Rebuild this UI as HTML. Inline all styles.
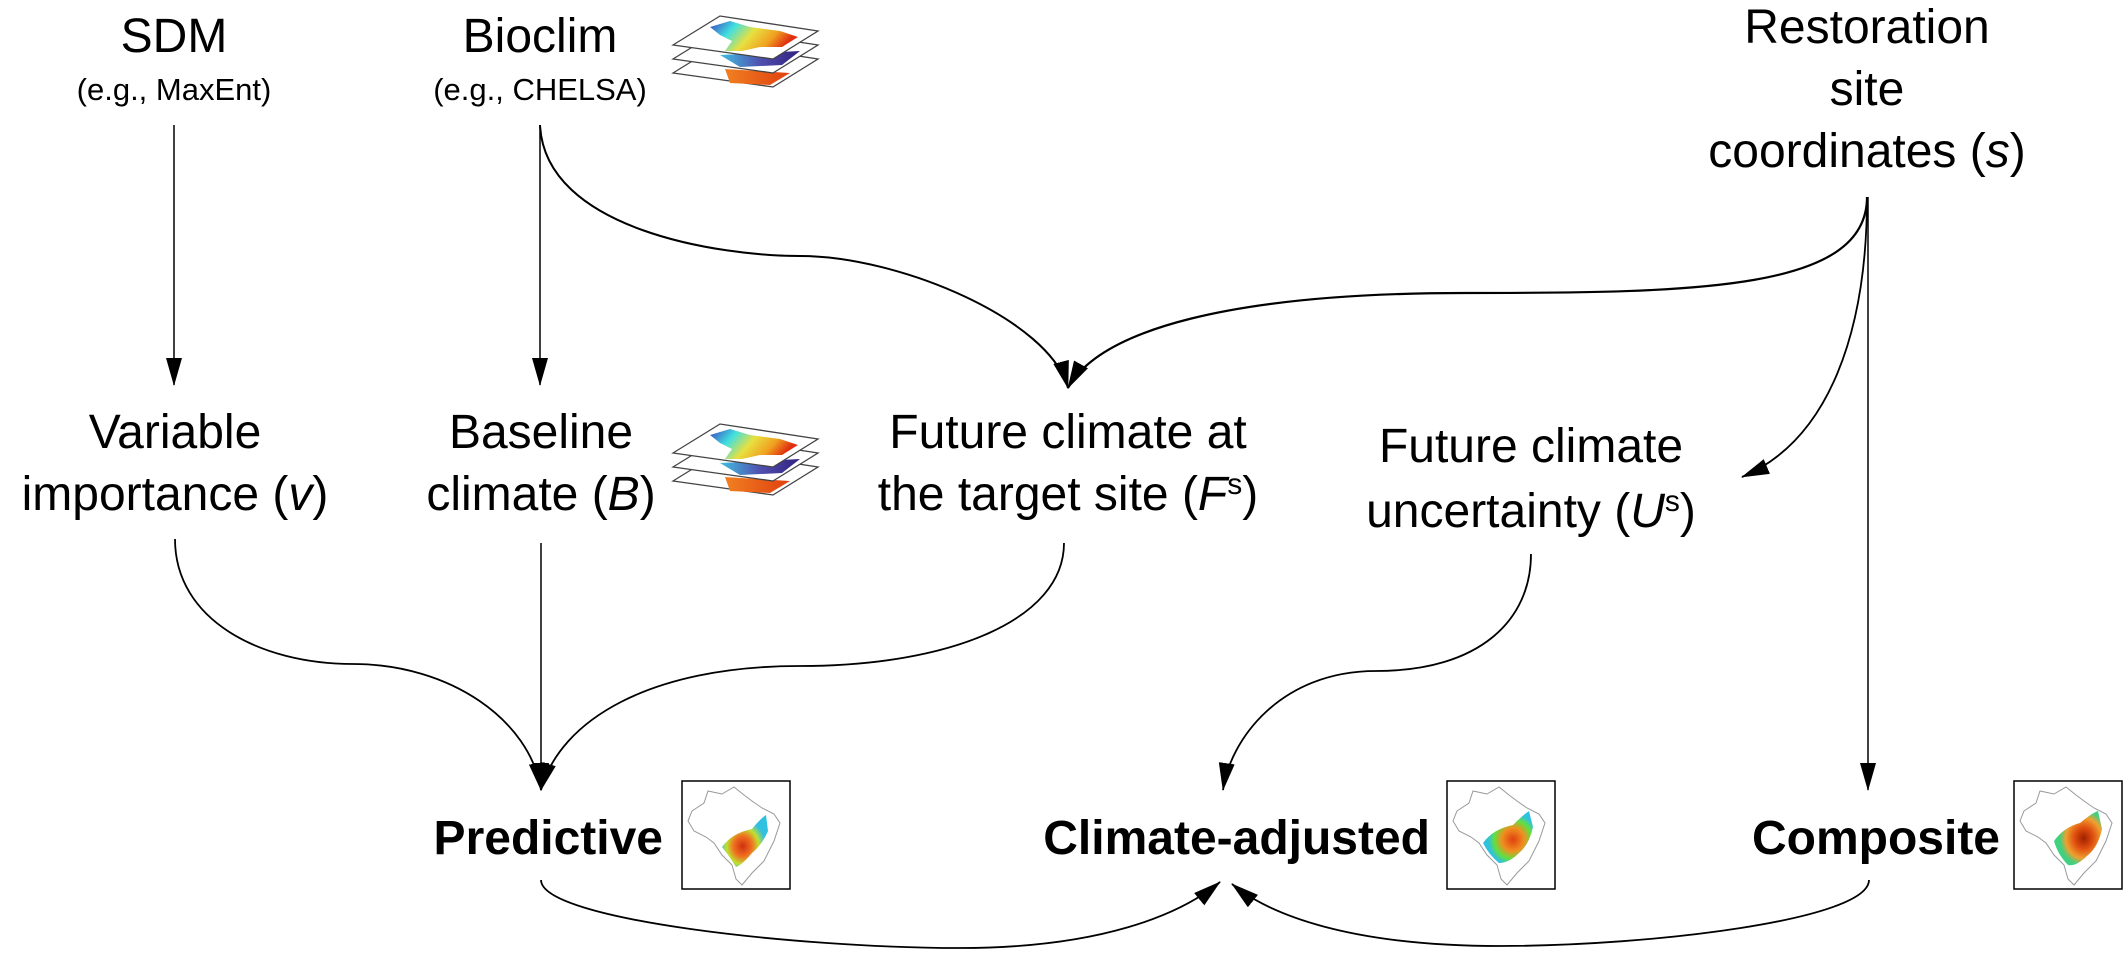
<!DOCTYPE html>
<html><head><meta charset="utf-8"><style>
html,body{margin:0;padding:0;background:#fff;}
svg{display:block;}
text{font-family:"Liberation Sans",Arial,sans-serif;fill:#000;}
</style></head><body>
<svg width="2128" height="954" viewBox="0 0 2128 954" xmlns="http://www.w3.org/2000/svg">
<defs>
<marker id="ah" viewBox="0 0 28 16" refX="27" refY="8" markerWidth="28" markerHeight="16" markerUnits="userSpaceOnUse" orient="auto">
<path d="M0,0 L28,8 L0,16 Z" fill="#000"/>
</marker>
<linearGradient id="g1" x1="0" y1="0" x2="1" y2="0.3">
<stop offset="0" stop-color="#4040c0"/><stop offset="0.3" stop-color="#40e0e0"/><stop offset="0.55" stop-color="#e8e040"/><stop offset="0.8" stop-color="#f0a020"/><stop offset="1" stop-color="#e03010"/>
</linearGradient>
<linearGradient id="g2" x1="0" y1="0" x2="1" y2="0">
<stop offset="0" stop-color="#40c0e0"/><stop offset="0.5" stop-color="#5050b0"/><stop offset="1" stop-color="#302080"/>
</linearGradient>
<linearGradient id="g3" x1="0" y1="0" x2="1" y2="0">
<stop offset="0" stop-color="#f08020"/><stop offset="1" stop-color="#e04010"/>
</linearGradient>
<radialGradient id="rm1" cx="0.45" cy="0.6" r="0.5">
<stop offset="0" stop-color="#d03010"/><stop offset="0.4" stop-color="#f07020"/><stop offset="0.7" stop-color="#c0e030"/><stop offset="1" stop-color="#30c0e0"/>
</radialGradient>
<radialGradient id="rm2" cx="0.6" cy="0.55" r="0.5">
<stop offset="0" stop-color="#e04010"/><stop offset="0.45" stop-color="#f09020"/><stop offset="0.75" stop-color="#60e040"/><stop offset="1" stop-color="#30c0e0"/>
</radialGradient>
<radialGradient id="rm3" cx="0.62" cy="0.5" r="0.5">
<stop offset="0" stop-color="#a02000"/><stop offset="0.4" stop-color="#e05010"/><stop offset="0.75" stop-color="#f0a030"/><stop offset="1" stop-color="#40d080"/>
</radialGradient>
<g id="layers">
<path d="M3,66 L50,37 L148,52 L103,80 Z" fill="#fff" stroke="#444" stroke-width="1.3"/>
<path d="M55,62 L120,66 L100,78 L60,76 Z" fill="url(#g3)"/>
<path d="M3,52 L50,23 L148,38 L103,66 Z" fill="#fff" stroke="#444" stroke-width="1.3"/>
<path d="M50,48 L130,44 L112,58 L70,60 Z" fill="url(#g2)"/>
<path d="M3,38 L50,9 L148,24 L103,52 Z" fill="#fff" stroke="#444" stroke-width="1.3"/>
<path d="M40,20 L60,14 L80,20 L110,24 L128,30 L112,40 L90,40 L72,44 L55,44 L62,34 L50,28 Z" fill="url(#g1)"/>
</g>
<g id="brazil">
<rect x="0" y="0" width="108" height="108" fill="#fff" stroke="#000" stroke-width="1.5"/>
<path d="M10,30 L22,22 L26,10 L40,13 L52,6 L62,14 L70,20 L80,27 L92,33 L98,42 L92,60 L82,80 L70,92 L60,104 L54,98 L50,84 L40,74 L32,62 L24,56 L12,50 L6,40 Z" fill="none" stroke="#999" stroke-width="1"/>
</g>
</defs>

<g fill="none" stroke="#000">
<line x1="174" y1="125" x2="174" y2="385" stroke-width="1.5" marker-end="url(#ah)"/>
<line x1="540" y1="125" x2="540" y2="385" stroke-width="1.5" marker-end="url(#ah)"/>
<path d="M540,125 C545,230 720,256 800,256 C900,256 1050,320 1068,388" stroke-width="2" marker-end="url(#ah)"/>
<path d="M1867,197 C1867,290 1700,293 1465,293 C1230,293 1100,330 1068,388" stroke-width="2.2" marker-end="url(#ah)"/>
<path d="M1867,197 C1867,330 1830,440 1742,477" stroke-width="1.8" marker-end="url(#ah)"/>
<line x1="1868" y1="197" x2="1868" y2="790" stroke-width="1.5" marker-end="url(#ah)"/>
<path d="M175,539 C175,620 260,664 353,664 C450,664 530,720 541,790" stroke-width="1.8" marker-end="url(#ah)"/>
<line x1="541" y1="543" x2="541" y2="790" stroke-width="1.5" marker-end="url(#ah)"/>
<path d="M1064,543 C1064,620 950,666 800,666 C650,666 560,720 541,790" stroke-width="1.8" marker-end="url(#ah)"/>
<path d="M1531,554 C1531,620 1480,671 1376,671 C1280,671 1230,740 1223,790" stroke-width="1.8" marker-end="url(#ah)"/>
<path d="M541,880 C541,920 800,948 960,948 C1100,948 1180,915 1220,882" stroke-width="1.8" marker-end="url(#ah)"/>
<path d="M1869,880 C1869,920 1650,946 1500,946 C1350,946 1270,915 1232,884" stroke-width="1.8" marker-end="url(#ah)"/>
</g>

<g font-size="48" text-anchor="middle">
<text x="174" y="52">SDM</text>
<text x="540" y="52">Bioclim</text>
<text x="1867" y="43">Restoration</text>
<text x="1867" y="105">site</text>
<text x="1867" y="167">coordinates (<tspan font-style="italic">s</tspan>)</text>
<text x="175" y="448">Variable</text>
<text x="175" y="510">importance (<tspan font-style="italic">v</tspan>)</text>
<text x="541" y="448">Baseline</text>
<text x="541" y="510">climate (<tspan font-style="italic">B</tspan>)</text>
<text x="1068" y="448">Future climate at</text>
<text x="1068" y="510">the target site (<tspan font-style="italic">F</tspan><tspan font-size="30" dy="-16">s</tspan><tspan dy="16">)</tspan></text>
<text x="1531" y="462">Future climate</text>
<text x="1531" y="527">uncertainty (<tspan font-style="italic">U</tspan><tspan font-size="30" dy="-16">s</tspan><tspan dy="16">)</tspan></text>
</g>
<g font-size="31" text-anchor="middle">
<text x="174" y="100">(e.g., MaxEnt)</text>
<text x="540" y="100">(e.g., CHELSA)</text>
</g>
<g font-size="48" font-weight="bold" text-anchor="end">
<text x="663" y="854">Predictive</text>
<text x="1430" y="854">Climate-adjusted</text>
<text x="2000" y="854">Composite</text>
</g>

<use href="#layers" x="670" y="7"/>
<use href="#layers" x="670" y="415"/>

<g transform="translate(682,781)"><use href="#brazil"/><path d="M40,66 Q50,52 70,48 Q78,38 84,34 L86,50 Q80,64 70,72 Q60,84 54,86 Q48,76 40,66 Z" fill="url(#rm1)"/></g>
<g transform="translate(1447,781)"><use href="#brazil"/><path d="M36,62 Q46,48 66,44 Q76,34 82,30 L86,46 Q82,64 72,72 Q62,82 52,82 Q42,74 36,62 Z" fill="url(#rm2)"/></g>
<g transform="translate(2014,781)"><use href="#brazil"/><path d="M40,60 Q50,46 66,42 Q78,32 84,30 L88,48 Q84,66 74,74 Q62,86 54,84 Q44,74 40,60 Z" fill="url(#rm3)"/></g>
</svg>
</body></html>
